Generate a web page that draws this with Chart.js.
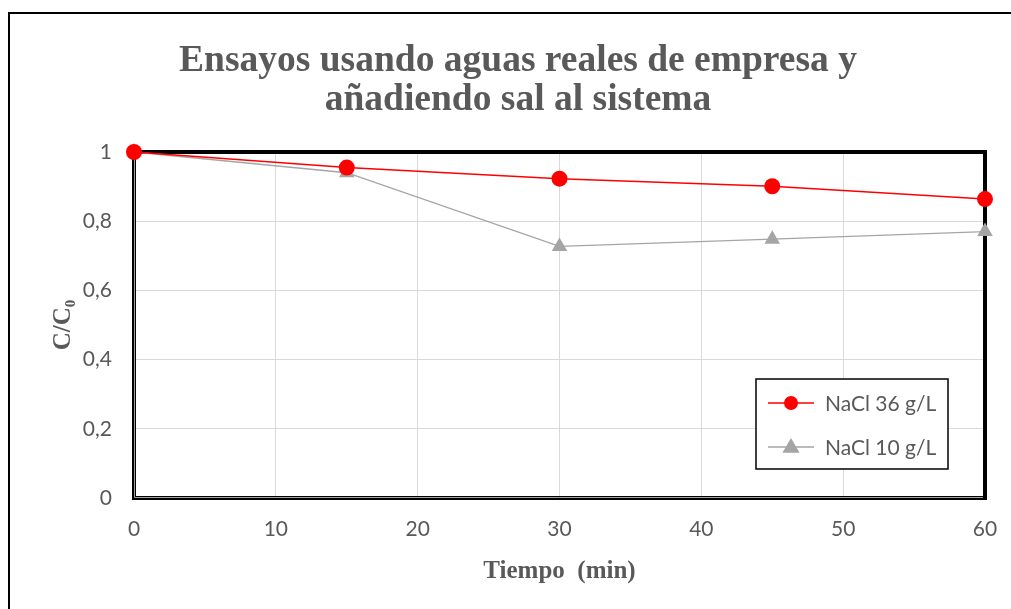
<!DOCTYPE html>
<html>
<head>
<meta charset="utf-8">
<script src="https://cdn.jsdelivr.net/npm/chart.js@4.4.1/dist/chart.umd.min.js"></script>
<style>
  html, body { margin: 0; padding: 0; background: #fff; }
  canvas { display: block; }
</style>
</head>
<body>
<canvas id="myChart" width="1011" height="609"></canvas>
<script>
// data
const tiempo = [0, 15, 30, 45, 60];
const nacl36 = [1, 0.955, 0.923, 0.901, 0.864];
const nacl10 = [1, 0.940, 0.727, 0.748, 0.770];
const seriesNames = ['NaCl 36 g/L', 'NaCl 10 g/L'];
const titleLines = ['Ensayos usando aguas reales de empresa y', 'añadiendo sal al sistema'];
const xTitle = 'Tiempo  (min)';
const yTitle = 'C/C₀';

const textGray = '#595959';
const tickFont = { family: 'Lato, "Open Sans", sans-serif', size: 21 };
const serifBold = 'Liberation Serif, "Times New Roman", serif';

function toPoints(ys) {
  return tiempo.map((t, i) => ({ x: t, y: ys[i] }));
}

// chart title, centred like the original (a bit right of the plot centre)
const titlePlugin = {
  id: 'bigTitle',
  afterDraw(chart) {
    const ctx = chart.ctx;
    ctx.save();
    ctx.fillStyle = textGray;
    ctx.font = 'bold 37.5px ' + serifBold;
    ctx.textAlign = 'center';
    ctx.textBaseline = 'middle';
    titleLines.forEach((line, i) => {
      ctx.fillText(line, 518, 61 + i * 39.5);
    });
    ctx.restore();
  }
};

// outer frame + plot border like the original
const framePlugin = {
  id: 'frame',
  beforeDatasetsDraw(chart) {
    const ctx = chart.ctx;
    const a = chart.chartArea;
    ctx.save();
    ctx.strokeStyle = '#000';
    ctx.lineWidth = 2;
    ctx.beginPath();
    ctx.moveTo(9, 609);
    ctx.lineTo(9, 13);
    ctx.lineTo(1011, 13);
    ctx.stroke();
    ctx.lineWidth = 4;
    ctx.strokeRect(a.left, a.top, a.right - a.left, a.bottom - a.top);
    // thin gray axis line in the middle of left / bottom
    ctx.strokeStyle = '#A0A0A0';
    ctx.lineWidth = 1;
    ctx.beginPath();
    ctx.moveTo(a.left + 0.5, a.top + 2);
    ctx.lineTo(a.left + 0.5, a.bottom - 0.5);
    ctx.lineTo(a.right - 2, a.bottom - 0.5);
    ctx.stroke();
    ctx.restore();
  }
};

// legend box inside the plot
const legendBoxPlugin = {
  id: 'legendBox',
  afterDraw(chart) {
    const ctx = chart.ctx;
    const x0 = 756, y0 = 379, w = 192, h = 90;
    ctx.save();
    ctx.fillStyle = '#fff';
    ctx.fillRect(x0, y0, w, h);
    ctx.strokeStyle = '#000';
    ctx.lineWidth = 1.5;
    ctx.strokeRect(x0, y0, w, h);
    const rows = [403, 447];
    chart.data.datasets.forEach((ds, i) => {
      const y = rows[i];
      ctx.strokeStyle = ds.borderColor;
      ctx.lineWidth = ds.borderWidth;
      ctx.beginPath();
      ctx.moveTo(768, y);
      ctx.lineTo(814, y);
      ctx.stroke();
      ctx.fillStyle = ds.pointBackgroundColor;
      ctx.beginPath();
      if (ds.pointStyle === 'triangle') {
        const r = ds.pointRadius;
        ctx.moveTo(791, y - r);
        ctx.lineTo(791 + r * 0.95, y + r * 0.65);
        ctx.lineTo(791 - r * 0.95, y + r * 0.65);
        ctx.closePath();
      } else {
        ctx.arc(791, y, ds.pointRadius - 1, 0, Math.PI * 2);
      }
      ctx.fill();
      ctx.fillStyle = textGray;
      ctx.font = tickFont.size + 'px ' + tickFont.family;
      ctx.textBaseline = 'middle';
      ctx.fillText(ds.label, 825, y + 1);
    });
    ctx.restore();
  }
};

const ctx = document.getElementById('myChart').getContext('2d');

const myChart = new Chart(ctx, {
  type: 'line',
  data: {
    datasets: [{
      label: seriesNames[0],
      data: toPoints(nacl36),
      borderColor: '#FF0000',
      backgroundColor: '#FF0000',
      pointBackgroundColor: '#FF0000',
      pointBorderColor: '#FF0000',
      borderWidth: 1.5,
      pointStyle: 'circle',
      pointRadius: 8,
      pointBorderWidth: 0,
      clip: false
    }, {
      label: seriesNames[1],
      data: toPoints(nacl10),
      borderColor: '#A5A5A5',
      backgroundColor: '#A5A5A5',
      pointBackgroundColor: '#A5A5A5',
      pointBorderColor: '#A5A5A5',
      borderWidth: 1.3,
      pointStyle: 'triangle',
      pointRadius: 9,
      pointBorderWidth: 0,
      clip: false
    }]
  },
  options: {
    responsive: false,
    animation: false,
    layout: { padding: { left: 10, right: 26, top: 152, bottom: 0 } },
    plugins: {
      legend: { display: false },
      tooltip: { enabled: false },
      title: { display: false }
    },
    scales: {
      x: {
        type: 'linear',
        min: 0,
        max: 60,
        ticks: { stepSize: 10, color: textGray, font: tickFont, padding: 19 },
        grid: { color: '#D9D9D9', drawTicks: false },
        border: { display: false },
        title: {
          display: true,
          text: xTitle,
          color: textGray,
          font: { family: serifBold, size: 25, weight: 'bold', lineHeight: 1.2 },
          padding: { top: 0, bottom: 22 }
        },
        afterFit(scale) {
          scale.height = 111;
          scale.paddingLeft = 0;
          scale.paddingRight = 0;
        }
      },
      y: {
        min: 0,
        max: 1,
        ticks: {
          stepSize: 0.2,
          color: textGray,
          font: tickFont,
          padding: 22,
          callback: v => String(Math.round(v * 10) / 10).replace('.', ',')
        },
        grid: { color: '#D9D9D9', drawTicks: false },
        border: { display: false },
        title: {
          display: true,
          text: yTitle,
          color: textGray,
          font: { family: serifBold, size: 25, weight: 'bold', lineHeight: 1.2 },
          padding: { top: 39, bottom: 0 }
        },
        afterFit(scale) {
          scale.width = 124;
          scale.paddingTop = 0;
          scale.paddingBottom = 0;
        }
      }
    }
  },
  plugins: [titlePlugin, framePlugin, legendBoxPlugin]
});
</script>
</body>
</html>
